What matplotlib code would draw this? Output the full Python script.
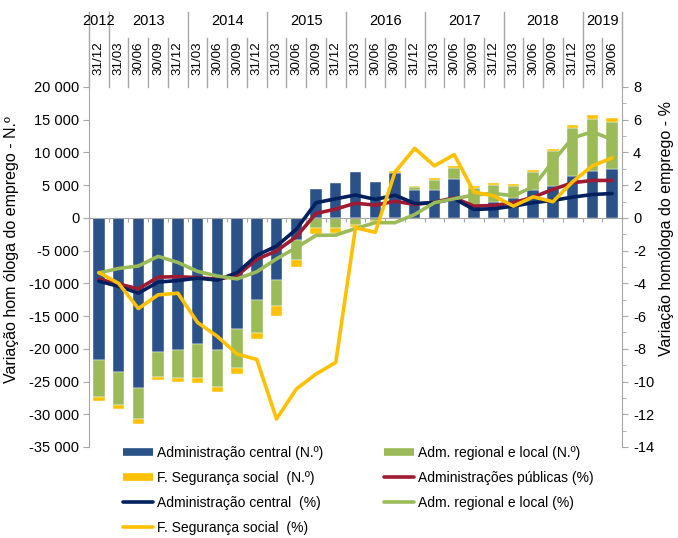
import numpy as np
import matplotlib
matplotlib.use("Agg")
import matplotlib.pyplot as plt
import matplotlib.transforms as mtransforms
from matplotlib.lines import Line2D
from matplotlib.ticker import FuncFormatter, MultipleLocator

plt.rcParams['font.family'] = ['Liberation Sans', 'DejaVu Sans']
plt.rcParams['axes.unicode_minus'] = False

# categorias (trimestres)
years = ['2012', '2013', '2014', '2015', '2016', '2017', '2018', '2019']
year_counts = [1, 4, 4, 4, 4, 4, 4, 2]
dates = ['31/12',
         '31/03', '30/06', '30/09', '31/12',
         '31/03', '30/06', '30/09', '31/12',
         '31/03', '30/06', '30/09', '31/12',
         '31/03', '30/06', '30/09', '31/12',
         '31/03', '30/06', '30/09', '31/12',
         '31/03', '30/06', '30/09', '31/12',
         '31/03', '30/06']

# variação homóloga (N.º)
central_n = [-21700, -23500, -26000, -20550, -20150, -19200, -20150, -17000, -12500,
             -9550, -3450, 4400, 5300, 7050, 5550, 6850, 4200, 4300, 5950,
             2000, 2400, 3000, 4250, 4800, 6400, 7200, 7400]
regional_n = [-5700, -5100, -4750, -3770, -4330, -5290, -5700, -5950, -5080,
              -3860, -2950, -1600, -1600, -1150, -500, -150, 500, 1530, 1600,
              2550, 2700, 1950, 2800, 5440, 7280, 7840, 7280]
segsocial_n = [-610, -560, -760, -510, -560, -760, -760, -920, -920,
               -1640, -1120, -920, -770, -300, -150, 250, 250, 310, 380,
               300, 270, 270, 260, 260, 510, 660, 610]

# variação homóloga (%)
adm_pub_pct = [-3.75, -4.03, -4.34, -3.62, -3.59, -3.65, -3.75, -3.52, -2.53,
               -2.02, -1.15, 0.27, 0.54, 0.90, 0.78, 1.02, 0.82, 0.96, 1.23,
               0.72, 0.76, 0.93, 1.27, 1.74, 2.15, 2.29, 2.29]
central_pct = [-3.87, -4.18, -4.60, -3.92, -3.83, -3.68, -3.80, -3.35, -2.29,
               -1.72, -0.70, 0.93, 1.17, 1.40, 1.13, 1.39, 0.88, 0.93, 1.17,
               0.52, 0.56, 0.72, 0.93, 1.07, 1.27, 1.43, 1.49]
regional_pct = [-3.36, -3.09, -2.94, -2.35, -2.72, -3.27, -3.55, -3.73, -3.29,
                -2.50, -1.82, -1.07, -1.05, -0.65, -0.29, -0.29, 0.21, 0.93, 1.17,
                1.40, 1.50, 1.35, 1.90, 3.46, 4.89, 5.26, 4.79]
segsocial_pct = [-3.34, -4.00, -5.54, -4.70, -4.60, -6.39, -7.24, -8.32, -8.65,
                 -12.29, -10.46, -9.54, -8.83, -0.60, -0.88, 2.80, 4.25, 3.18, 3.87,
                 1.58, 1.35, 0.72, 1.29, 0.99, 2.21, 3.18, 3.67]

C_BLUE = '#2B5189'
C_GREEN = '#9BBB59'
C_YELLOW = '#FFC000'
C_RED = '#9E1B32'
C_NAVY = '#002060'
C_GRID = '#A6A6A6'
FS = 10.5      # texto horizontal
FS_LEG = 10.0
FS_DATE = 9.6  # datas rodadas
FS_TITLE = 11.5

W, H = 678, 538
fig = plt.figure(figsize=(W / 100, H / 100), dpi=100)
ax = fig.add_axes([89 / W, 1 - 447 / H, (622 - 89) / W, 360 / H])
ax2 = ax.twinx()

x = np.arange(len(dates))

# barras empilhadas (positivos para cima, negativos para baixo)
pos_base = np.zeros(len(x))
neg_base = np.zeros(len(x))
for vals, col in [(central_n, C_BLUE), (regional_n, C_GREEN), (segsocial_n, C_YELLOW)]:
    v = np.array(vals, dtype=float)
    bottom = np.where(v >= 0, pos_base, neg_base)
    ax.bar(x, v, 0.58, bottom=bottom, color=col, edgecolor='white', linewidth=0.3, zorder=2)
    pos_base = pos_base + np.clip(v, 0, None)
    neg_base = neg_base + np.clip(v, None, 0)

lw = 2.6
ax2.plot(x, adm_pub_pct, color=C_RED, lw=lw, solid_joinstyle='round', solid_capstyle='round')
ax2.plot(x, central_pct, color=C_NAVY, lw=lw, solid_joinstyle='round', solid_capstyle='round')
ax2.plot(x, regional_pct, color=C_GREEN, lw=lw, solid_joinstyle='round', solid_capstyle='round')
ax2.plot(x, segsocial_pct, color=C_YELLOW, lw=lw, solid_joinstyle='round', solid_capstyle='round')

ax.set_xlim(-0.5, len(x) - 0.5)
ax.set_ylim(-35000, 20000)
ax2.set_ylim(-14, 8)

# eixos
for s in ['top', 'right']:
    ax.spines[s].set_visible(False)
for s in ['top', 'left', 'bottom']:
    ax2.spines[s].set_visible(False)
ax.spines['bottom'].set_position(('data', 0))
ax.spines['bottom'].set_color(C_GRID)
ax.spines['left'].set_color(C_GRID)
ax2.spines['right'].set_color(C_GRID)

ax.set_xticks(np.arange(-0.5, len(x), 1))
ax.tick_params(axis='x', direction='out', length=3, color=C_GRID, labelbottom=False)
ax.yaxis.set_major_locator(MultipleLocator(5000))
ax.yaxis.set_major_formatter(FuncFormatter(lambda v, p: '{:,.0f}'.format(v).replace(',', ' ')))
ax.tick_params(axis='y', direction='out', length=4, color=C_GRID, labelsize=FS, pad=3)

ax2.yaxis.set_major_locator(MultipleLocator(2))
ax2.yaxis.set_minor_locator(MultipleLocator(1))
ax2.yaxis.set_major_formatter(FuncFormatter(lambda v, p: '{:.0f}'.format(v)))
ax2.tick_params(axis='y', which='both', direction='out', color=C_GRID, labelsize=FS, pad=4)
ax2.tick_params(axis='y', which='major', length=4)
ax2.tick_params(axis='y', which='minor', length=3)

# cabeçalho com anos e datas
trans = mtransforms.blended_transform_factory(ax.transData, ax.transAxes)
y_top = (447 - 12) / 360
y_mid = (447 - 38) / 360
edges = np.cumsum([0] + year_counts) - 0.5
for b in np.arange(-0.5, len(x), 1):
    top = y_top if np.any(np.isclose(edges, b)) else y_mid
    ax.plot([b, b], [1.0, top], color=C_GRID, lw=1, transform=trans, clip_on=False)
for i, yr in enumerate(years):
    cx = (edges[i] + edges[i + 1]) / 2
    ax.text(cx, (447 - 21) / 360, yr, transform=trans, ha='center', va='center', fontsize=FS)
for i, d in enumerate(dates):
    ax.text(i, (447 - 58) / 360, d, transform=trans, ha='center', va='center',
            rotation=90, fontsize=FS_DATE)

fig.text(12 / W, 1 - 250 / H, 'Variação hom óloga do emprego - N.º', rotation=90,
         ha='center', va='center', fontsize=FS_TITLE)
fig.text(667 / W, 1 - 228 / H, 'Variação homóloga do emprego - %', rotation=90,
         ha='center', va='center', fontsize=FS_TITLE)

# legenda
h_blue = Line2D([], [], color=C_BLUE, lw=5.5, solid_capstyle='butt')
h_green = Line2D([], [], color=C_GREEN, lw=5.5, solid_capstyle='butt')
h_yellow = Line2D([], [], color=C_YELLOW, lw=5.5, solid_capstyle='butt')
h_red = Line2D([], [], color=C_RED, lw=2.6, solid_capstyle='round')
h_navy = Line2D([], [], color=C_NAVY, lw=2.6, solid_capstyle='round')
h_lgreen = Line2D([], [], color=C_GREEN, lw=2.6, solid_capstyle='round')
h_lyellow = Line2D([], [], color=C_YELLOW, lw=2.6, solid_capstyle='round')
handles = [h_blue, h_yellow, h_navy, h_lyellow, h_green, h_red, h_lgreen]
labels = ['Administração central (N.º)', 'F. Segurança social  (N.º)',
          'Administração central  (%)', 'F. Segurança social  (%)',
          'Adm. regional e local (N.º)', 'Administrações públicas (%)',
          'Adm. regional e local (%)']
fig.legend(handles, labels, ncol=2, loc='upper left', bbox_to_anchor=(123 / W, 1 - 446 / H),
           frameon=False, fontsize=FS_LEG, handlelength=2.16, handletextpad=0.28,
           columnspacing=4.4, labelspacing=0.8, borderpad=0, borderaxespad=0)

fig.savefig('out.png', dpi=100)
